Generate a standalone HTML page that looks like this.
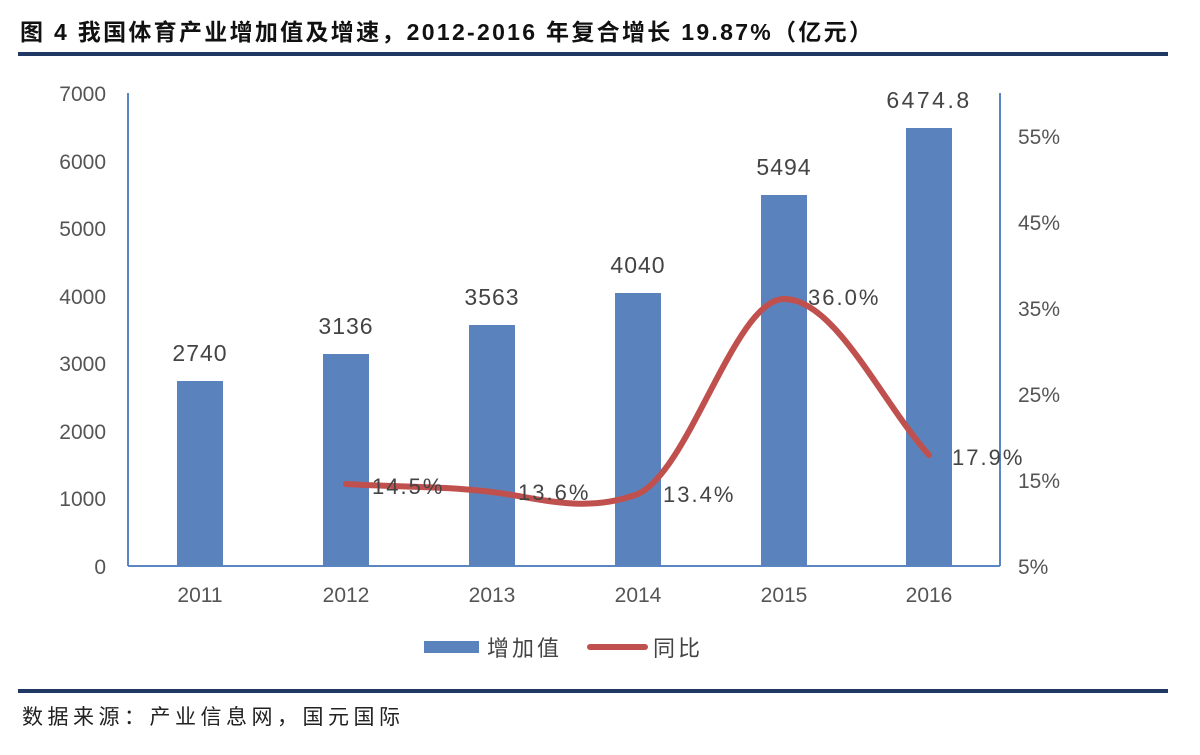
<!DOCTYPE html>
<html><head><meta charset="utf-8"><style>
body{margin:0;background:#fff;width:1200px;height:750px;overflow:hidden;font-family:"Liberation Sans","Noto Sans CJK SC",sans-serif}
</style></head><body>
<svg width="1200" height="750" xmlns="http://www.w3.org/2000/svg" font-family="Liberation Sans, Noto Sans CJK SC, sans-serif">
<text x="20" y="40" font-size="23" font-weight="bold" fill="#111" letter-spacing="2.3">图 4 我国体育产业增加值及增速，2012-2016 年复合增长 19.87%（亿元）</text>
<rect x="18" y="52" width="1150" height="4" fill="#1f3864"/>
<g font-size="21" fill="#555" text-anchor="end">
<text x="106" y="101">7000</text><text x="106" y="169">6000</text><text x="106" y="236">5000</text>
<text x="106" y="304">4000</text><text x="106" y="371">3000</text><text x="106" y="439">2000</text>
<text x="106" y="506">1000</text><text x="106" y="574">0</text>
</g>
<g font-size="21" fill="#555">
<text x="1018" y="144">55%</text><text x="1018" y="230">45%</text><text x="1018" y="316">35%</text>
<text x="1018" y="402">25%</text><text x="1018" y="488">15%</text><text x="1018" y="574">5%</text>
</g>
<line x1="128" y1="93" x2="128" y2="566" stroke="#5b86c4" stroke-width="2"/>
<line x1="1000" y1="93" x2="1000" y2="566" stroke="#5b86c4" stroke-width="2"/>
<line x1="128" y1="566" x2="1000" y2="566" stroke="#5b86c4" stroke-width="2"/>
<g fill="#5a83bd">
<rect x="177" y="381" width="46" height="185"/>
<rect x="323" y="354" width="46" height="212"/>
<rect x="469" y="325" width="46" height="241"/>
<rect x="615" y="293" width="46" height="273"/>
<rect x="761" y="195" width="46" height="371"/>
<rect x="906" y="128" width="46" height="438"/>
</g>
<g font-size="23" fill="#444" text-anchor="middle" letter-spacing="1">
<text x="200" y="361">2740</text><text x="346" y="334">3136</text><text x="492" y="305">3563</text>
<text x="638" y="273">4040</text><text x="784" y="175">5494</text><text x="929" y="108" letter-spacing="2.5">6474.8</text>
</g>
<path d="M346,484 C395,487 443,486 492,492 C540,498 585,514 638,494 C690,470 735,299 784,299 C835,299 880,400 929,455" fill="none" stroke="#c0504d" stroke-width="6" stroke-linecap="round"/>
<g font-size="22" fill="#444" letter-spacing="2">
<text x="372" y="494">14.5%</text><text x="518" y="500">13.6%</text><text x="663" y="502">13.4%</text>
<text x="808" y="305">36.0%</text><text x="952" y="465">17.9%</text>
</g>
<g font-size="21" fill="#555" text-anchor="middle">
<text x="200" y="602">2011</text><text x="346" y="602">2012</text><text x="492" y="602">2013</text>
<text x="638" y="602">2014</text><text x="784" y="602">2015</text><text x="929" y="602">2016</text>
</g>
<rect x="424" y="641" width="55" height="12" fill="#5a83bd"/>
<text x="487" y="656" font-size="22" fill="#444" letter-spacing="3">增加值</text>
<line x1="590" y1="647" x2="645" y2="647" stroke="#c0504d" stroke-width="6" stroke-linecap="round"/>
<text x="653" y="656" font-size="22" fill="#444" letter-spacing="3">同比</text>
<rect x="18" y="689" width="1150" height="4" fill="#1f3864"/>
<text x="22" y="724" font-size="21" fill="#222" letter-spacing="4.5">数据来源：产业信息网，国元国际</text>
</svg>
</body></html>
